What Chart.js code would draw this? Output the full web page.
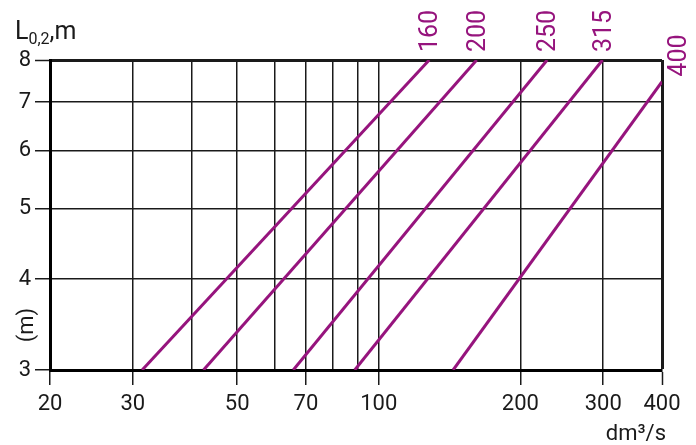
<!DOCTYPE html>
<html>
<head>
<meta charset="utf-8">
<script src="https://cdn.jsdelivr.net/npm/chart.js@4"></script>
<style>
  html, body { margin: 0; padding: 0; background: #fff; }
  #wrap { width: 696px; height: 445px; }
</style>
</head>
<body>
<div id="wrap"><canvas id="chart0"></canvas></div>
<script>
// duct sizes and the flow range each line covers
var sizes = ["160", "200", "250", "315", "400"];
var flowStart = [31.4, 42.4, 65.8, 88.9, 143.9];
var flowEnd = [128, 161.5, 228, 299, 400];
var lenStart = [3, 3, 3, 3, 3];
var lenEnd = [8, 8, 8, 8, 7.47];

var xGrid = [20, 30, 40, 50, 60, 70, 80, 90, 100, 200, 300, 400];
var xLabels = [20, 30, 50, 70, 100, 200, 300, 400];
var yGrid = [3, 4, 5, 6, 7, 8];

var purple = "#96147d";
var ink = "#1a1a1a";
var fontName = "Roboto, 'DejaVu Sans', sans-serif";

document.addEventListener("DOMContentLoaded", function() {
  var ctx0 = document.getElementById("chart0").getContext("2d");

  var datasets = sizes.map(function(s, i) {
    return {
      label: s,
      data: [{ x: flowStart[i], y: lenStart[i] }, { x: flowEnd[i], y: lenEnd[i] }],
      borderColor: purple,
      backgroundColor: purple,
      borderWidth: 3,
      pointRadius: 0,
      showLine: true,
      fill: false
    };
  });

  // size labels at the end of each line, plus axis titles
  var extras = {
    id: "extras",
    afterDatasetsDraw: function(chart) {
      var c = chart.ctx;
      var area = chart.chartArea;
      c.save();
      c.fillStyle = purple;
      c.font = "25px " + fontName;
      c.textAlign = "left";
      c.textBaseline = "middle";
      chart.data.datasets.forEach(function(ds, i) {
        var pt = chart.getDatasetMeta(i).data[1];
        var x, y;
        if (pt.y > area.top + 5) {
          x = pt.x + 18; y = pt.y - 5;
        } else {
          x = pt.x + 2; y = area.top - 8;
        }
        c.save();
        c.translate(x, y);
        c.rotate(-Math.PI / 2);
        c.fillText(ds.label, 0, 0);
        c.restore();
      });

      c.fillStyle = ink;
      c.textBaseline = "alphabetic";
      c.font = "25px " + fontName;
      c.fillText("L", 15, 39);
      var w = c.measureText("L").width;
      c.font = "16px " + fontName;
      c.fillText("0,2", 15 + w, 44);
      var w2 = c.measureText("0,2").width;
      c.font = "25px " + fontName;
      c.fillText(",m", 15 + w + w2, 39);

      c.textAlign = "right";
      c.font = "22px " + fontName;
      c.fillText("dm\u00b3/s", 666, 440);

      c.save();
      c.translate(33, 325);
      c.rotate(-Math.PI / 2);
      c.textAlign = "center";
      c.font = "22px " + fontName;
      c.fillText("(m)", 0, 0);
      c.restore();
      c.restore();
    }
  };

  var chart0 = new Chart(ctx0, {
    type: "scatter",
    data: { datasets: datasets },
    options: {
      responsive: true,
      maintainAspectRatio: false,
      animation: false,
      layout: { padding: { left: 0, right: 34, top: 60, bottom: 0 } },
      plugins: { legend: { display: false }, tooltip: { enabled: false } },
      scales: {
        x: {
          type: "logarithmic",
          min: 20,
          max: 400,
          afterBuildTicks: function(scale) {
            scale.ticks = xGrid.map(function(v) { return { value: v }; });
          },
          afterFit: function(scale) { scale.height = 75; },
          ticks: {
            autoSkip: false,
            maxRotation: 0,
            padding: 6,
            color: ink,
            font: { family: fontName, size: 22 },
            callback: function(v) { return xLabels.indexOf(v) >= 0 ? String(v) : ""; }
          },
          grid: {
            color: ink,
            lineWidth: function(c) { return c.tick && c.tick.value === 400 ? 3 : 1.5; },
            tickLength: 15,
            tickColor: function(c) { return c.tick && xLabels.indexOf(c.tick.value) >= 0 ? ink : "rgba(0,0,0,0)"; },
            tickWidth: 1.5
          },
          border: { color: "#000", width: 3 }
        },
        y: {
          type: "logarithmic",
          min: 3,
          max: 8,
          afterBuildTicks: function(scale) {
            scale.ticks = yGrid.map(function(v) { return { value: v }; });
          },
          afterFit: function(scale) { scale.width = 50; },
          ticks: {
            padding: 4,
            color: ink,
            font: { family: fontName, size: 22 },
            callback: function(v) { return String(v); }
          },
          grid: {
            color: ink,
            lineWidth: function(c) { return c.tick && c.tick.value === 8 ? 3 : 1.5; },
            tickLength: 15,
            tickWidth: 1.5
          },
          border: { color: "#000", width: 3 }
        }
      }
    },
    plugins: [extras]
  });

  window.addEventListener("resize", function() {
    chart0.update();
  });
});
</script>
</body>
</html>
